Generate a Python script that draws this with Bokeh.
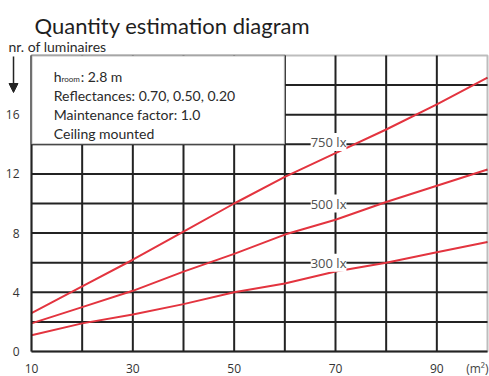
from bokeh.plotting import figure
from bokeh.models import Label, Arrow, NormalHead, BoxAnnotation, FixedTicker, Range1d
from bokeh.embed import file_html
from bokeh.resources import INLINE

# ---- data ----
area = [10, 20, 30, 40, 50, 60, 70, 80, 90, 100]
lux750 = [2.6, 4.4, 6.2, 8.1, 10.0, 11.8, 13.4, 15.0, 16.7, 18.5]
lux500 = [1.9, 3.0, 4.1, 5.4, 6.6, 7.9, 8.9, 10.1, 11.2, 12.3]
lux300 = [1.1, 1.9, 2.5, 3.2, 4.0, 4.6, 5.4, 6.0, 6.7, 7.4]
x_ticks = [10, 30, 50, 70, 90]
y_ticks = [0, 4, 8, 12, 16]
x_grid = [20, 30, 40, 50, 60, 70, 80, 90]
y_grid = [2, 4, 6, 8, 10, 12, 14, 16, 18]
info_lines = ["Reflectances: 0.70, 0.50, 0.20", "Maintenance factor: 1.0", "Ceiling mounted"]

X0, X1, Y0, Y1 = 10, 100, 0, 20
DARK = "#232323"
RED = "#e3343f"
FONT = "Lato"

# frame spans the whole canvas; chart area is x 10..100, y 0..20
kx = 456 / (X1 - X0)
ky = 296 / (Y1 - Y0)
p = figure(width=489, height=376, output_backend="svg", toolbar_location=None,
           x_range=Range1d(X0 - 31 / kx, X1 + 2 / kx),
           y_range=Range1d(Y0 - 25 / ky, Y1 + 55 / ky),
           min_border=0)
p.background_fill_color = "white"
p.border_fill_color = "white"
p.outline_line_color = None
p.xgrid.visible = False
p.ygrid.visible = False

# grid lines
p.segment(x0=x_grid, y0=[Y0] * len(x_grid), x1=x_grid, y1=[Y1] * len(x_grid),
          line_color=DARK, line_width=2)
p.segment(x0=[X0] * len(y_grid), y0=y_grid, x1=[X1] * len(y_grid), y1=y_grid,
          line_color=DARK, line_width=2)

p.xaxis.ticker = FixedTicker(ticks=x_ticks)
p.yaxis.ticker = FixedTicker(ticks=y_ticks)
p.xaxis.fixed_location = Y0
p.yaxis.fixed_location = X0
p.xaxis.bounds = (X0, X1)
p.yaxis.bounds = (Y0, Y1)
for ax in (p.xaxis, p.yaxis):
    ax.axis_line_color = DARK
    ax.axis_line_width = 2
    ax.major_tick_line_color = None
    ax.minor_tick_line_color = None
    ax.major_label_text_font = "Open Sans"
    ax.major_label_text_font_size = "12px"
    ax.major_label_text_color = "#333333"
    ax.major_label_standoff = 6

for ys in (lux750, lux500, lux300):
    p.line(area, ys, line_color=RED, line_width=2)

# chart border and info box
p.add_layout(BoxAnnotation(left=X0, right=X1, bottom=Y0, top=Y1, fill_alpha=0,
                           line_color=DARK, line_width=2))
p.add_layout(BoxAnnotation(left=10, right=60, bottom=14, top=20, fill_color="white",
                           fill_alpha=1, line_color=DARK, line_width=2))

def lab(x, y, text, size="12px", baseline="alphabetic", align="left", bg=None, font=FONT, color="#2a2a2a"):
    l = Label(x=x, y=y, text=text, text_font=font, text_font_size=size,
              text_baseline=baseline, text_align=align, text_color=color)
    if bg:
        l.background_fill_color = bg
    p.add_layout(l)

lab(65.1, 14.15, "750 lx", size="13px", bg="white", font="Open Sans", color="#505050")
lab(65.1, 10, "500 lx", size="13px", baseline="middle", bg="white", font="Open Sans", color="#505050")
lab(65.1, 6, "300 lx", size="13px", baseline="middle", bg="white", font="Open Sans", color="#505050")

lab(10.6, 22.03, "Quantity estimation diagram", size="22px", color="#1e1e1e")
lab(5.46, 20.6, "nr. of luminaires", size="14px")
lab(95.8, -1.15, "(m²)", size="12px", font="Open Sans", color="#444444")

p.add_layout(Arrow(end=NormalHead(size=9, fill_color=DARK, line_color=DARK),
                   x_start=6.45, y_start=19.93, x_end=6.45, y_end=17.5,
                   line_color=DARK, line_width=1.5))

# info box text
lab(14.4, 18.58, "h", size="14px")
lab(15.9, 18.4, "room", size="8px")
lab(19.7, 18.58, ": 2.8 m", size="14px")
for i, t in enumerate(info_lines):
    lab(14.4, 17.30 - i * 1.285, t, size="14px")

open("out.html", "w").write(file_html(p, INLINE))
